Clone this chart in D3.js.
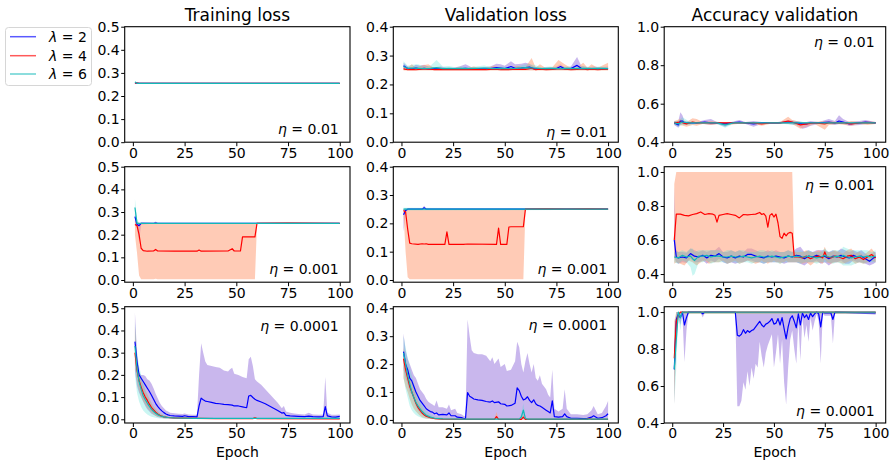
<!DOCTYPE html>
<html>
<head>
<meta charset="utf-8">
<script src="https://cdn.jsdelivr.net/npm/d3@7"></script>
<style>
body { margin: 0; background: #fff; }
text { font-family: "DejaVu Sans", sans-serif; }
</style>
</head>
<body>
<div id="chart"></div>
<script>
// Labels and ticks
const titles = ["Training loss", "Validation loss", "Accuracy validation"];
const lambdas = ["2", "4", "6"];
const etas = ["0.01", "0.001", "0.0001"];
const epochTicks = [0, 25, 50, 75, 100];
const trainTicks = [0, 0.1, 0.2, 0.3, 0.4, 0.5];
const valTicks = [0, 0.1, 0.2, 0.3, 0.4];
const accTicks = [0.4, 0.6, 0.8, 1.0];

// Series rows: [epoch, mean, low, high]
// eta = 0.01
const train_001_l2 = [[1,0.257,0.255,0.259],[3,0.255,0.254,0.256],[50,0.255,0.254,0.256],[100,0.255,0.254,0.256]];
const train_001_l4 = [[1,0.257,0.255,0.259],[3,0.255,0.254,0.256],[50,0.255,0.254,0.256],[100,0.255,0.254,0.256]];
const train_001_l6 = [[1,0.261,0.258,0.265],[2,0.255,0.254,0.257],[50,0.255,0.254,0.256],[100,0.255,0.254,0.256]];

const val_001_l2 = [[1,0.265,0.255,0.275],[3,0.255,0.25,0.262],[5,0.254,0.25,0.26],[7,0.257,0.25,0.268],[9,0.254,0.25,0.265],[11,0.256,0.25,0.268],[13,0.254,0.25,0.262],[16,0.255,0.25,0.26],[19,0.254,0.25,0.262],[22,0.254,0.25,0.258],[25,0.253,0.25,0.258],[28,0.254,0.25,0.262],[31,0.256,0.25,0.27],[34,0.254,0.25,0.26],[37,0.254,0.25,0.258],[40,0.254,0.25,0.26],[43,0.255,0.25,0.262],[46,0.258,0.25,0.272],[48,0.257,0.25,0.27],[50,0.255,0.25,0.265],[53,0.262,0.25,0.28],[55,0.256,0.25,0.27],[58,0.257,0.25,0.272],[60,0.258,0.25,0.275],[62,0.26,0.25,0.272],[64,0.255,0.25,0.262],[67,0.253,0.25,0.258],[70,0.254,0.25,0.26],[73,0.254,0.25,0.26],[75,0.255,0.25,0.262],[77,0.262,0.25,0.27],[79,0.254,0.25,0.26],[82,0.255,0.25,0.262],[85,0.266,0.252,0.295],[87,0.256,0.25,0.265],[90,0.254,0.25,0.26],[93,0.255,0.25,0.262],[96,0.254,0.25,0.26],[100,0.255,0.25,0.262]];
const val_001_l4 = [[1,0.254,0.248,0.262],[3,0.251,0.248,0.258],[5,0.252,0.248,0.27],[7,0.251,0.248,0.258],[10,0.253,0.248,0.266],[13,0.254,0.248,0.27],[16,0.251,0.248,0.256],[19,0.252,0.248,0.258],[22,0.251,0.248,0.256],[25,0.251,0.248,0.256],[28,0.252,0.248,0.26],[31,0.251,0.248,0.256],[35,0.252,0.248,0.262],[38,0.251,0.248,0.256],[41,0.251,0.248,0.257],[45,0.253,0.248,0.265],[48,0.251,0.248,0.257],[51,0.251,0.248,0.256],[56,0.253,0.248,0.265],[60,0.252,0.248,0.26],[63,0.256,0.248,0.292],[65,0.251,0.248,0.258],[67,0.253,0.248,0.27],[70,0.251,0.248,0.256],[73,0.252,0.248,0.26],[76,0.255,0.248,0.285],[79,0.253,0.248,0.27],[82,0.251,0.248,0.257],[85,0.252,0.248,0.26],[88,0.254,0.248,0.275],[90,0.251,0.248,0.258],[92,0.253,0.248,0.27],[95,0.251,0.248,0.257],[97,0.252,0.248,0.265],[100,0.253,0.248,0.275]];
const val_001_l6 = [[1,0.262,0.25,0.28],[3,0.256,0.25,0.265],[5,0.257,0.25,0.268],[8,0.256,0.25,0.27],[11,0.255,0.25,0.262],[14,0.256,0.25,0.265],[17,0.258,0.25,0.285],[20,0.255,0.25,0.262],[23,0.256,0.25,0.264],[26,0.255,0.25,0.26],[29,0.256,0.25,0.262],[32,0.255,0.25,0.26],[36,0.256,0.25,0.262],[40,0.257,0.25,0.266],[44,0.255,0.25,0.26],[48,0.256,0.25,0.262],[52,0.255,0.25,0.26],[56,0.256,0.25,0.263],[60,0.258,0.25,0.27],[64,0.257,0.25,0.268],[68,0.255,0.25,0.26],[72,0.256,0.25,0.262],[76,0.255,0.25,0.26],[80,0.256,0.25,0.262],[84,0.255,0.25,0.26],[88,0.256,0.25,0.263],[92,0.255,0.25,0.26],[96,0.256,0.25,0.262],[100,0.255,0.25,0.26]];

const acc_001_l2 = [[1,0.5,0.49,0.51],[3,0.49,0.475,0.51],[4,0.51,0.49,0.555],[5,0.51,0.495,0.54],[6,0.5,0.49,0.51],[9,0.5,0.495,0.505],[12,0.5,0.495,0.505],[16,0.505,0.495,0.515],[19,0.5,0.49,0.52],[22,0.5,0.495,0.505],[26,0.495,0.48,0.505],[29,0.5,0.495,0.505],[33,0.505,0.495,0.515],[36,0.5,0.495,0.505],[40,0.495,0.48,0.51],[44,0.5,0.495,0.505],[48,0.5,0.495,0.505],[52,0.5,0.495,0.505],[57,0.505,0.495,0.515],[61,0.5,0.49,0.51],[64,0.495,0.47,0.505],[66,0.495,0.475,0.505],[68,0.5,0.485,0.51],[72,0.5,0.495,0.505],[77,0.505,0.495,0.52],[80,0.5,0.49,0.51],[82,0.51,0.495,0.54],[84,0.505,0.495,0.52],[87,0.495,0.485,0.505],[92,0.5,0.49,0.51],[95,0.505,0.495,0.515],[100,0.5,0.495,0.505]];
const acc_001_l4 = [[1,0.5,0.49,0.51],[4,0.505,0.49,0.52],[7,0.495,0.48,0.505],[10,0.505,0.49,0.525],[12,0.5,0.485,0.52],[15,0.5,0.495,0.505],[19,0.5,0.49,0.51],[23,0.5,0.495,0.505],[28,0.5,0.49,0.505],[32,0.5,0.495,0.505],[36,0.5,0.495,0.505],[40,0.5,0.495,0.505],[44,0.495,0.485,0.505],[48,0.5,0.495,0.505],[53,0.5,0.495,0.505],[57,0.51,0.495,0.532],[59,0.505,0.495,0.515],[63,0.49,0.47,0.505],[66,0.495,0.48,0.505],[70,0.5,0.495,0.505],[75,0.495,0.465,0.51],[77,0.5,0.49,0.51],[81,0.5,0.495,0.505],[85,0.5,0.49,0.505],[88,0.495,0.485,0.51],[92,0.5,0.495,0.505],[96,0.5,0.49,0.51],[100,0.5,0.495,0.505]];
const acc_001_l6 = [[1,0.5,0.49,0.51],[3,0.495,0.48,0.51],[5,0.505,0.49,0.53],[8,0.5,0.49,0.51],[12,0.5,0.495,0.505],[17,0.5,0.495,0.505],[22,0.5,0.495,0.505],[26,0.49,0.475,0.5],[30,0.5,0.495,0.505],[35,0.5,0.495,0.505],[40,0.5,0.495,0.505],[45,0.5,0.495,0.505],[50,0.5,0.495,0.505],[55,0.5,0.495,0.505],[60,0.5,0.49,0.51],[65,0.5,0.495,0.505],[70,0.5,0.495,0.505],[75,0.5,0.495,0.505],[80,0.5,0.495,0.505],[85,0.5,0.495,0.505],[90,0.5,0.495,0.505],[95,0.5,0.495,0.505],[100,0.5,0.495,0.505]];

// eta = 0.001
const train_0001_l2 = [[1,0.28,0.25,0.3],[2,0.245,0.23,0.255],[3,0.24,0.17,0.25],[4,0.25,0.245,0.255],[10,0.25,0.248,0.252],[11,0.251,0.248,0.258],[12,0.25,0.248,0.252],[100,0.25,0.248,0.252]];
const train_0001_l4 = [[1,0.245,0.2,0.26],[2,0.24,0.12,0.255],[3,0.2,0.02,0.25],[4,0.14,0.003,0.25],[5,0.13,0.003,0.25],[7,0.127,0.003,0.25],[10,0.128,0.003,0.25],[11,0.135,0.005,0.255],[12,0.128,0.003,0.25],[20,0.127,0.003,0.25],[22,0.128,0.003,0.25],[31,0.127,0.003,0.25],[32,0.132,0.003,0.25],[33,0.127,0.003,0.25],[46,0.128,0.003,0.25],[48,0.138,0.003,0.25],[49,0.128,0.003,0.25],[52,0.128,0.003,0.25],[53,0.19,0.003,0.25],[54,0.19,0.003,0.25],[59,0.19,0.003,0.25],[60,0.25,0.248,0.254],[75,0.251,0.248,0.255],[100,0.25,0.248,0.252]];
const train_0001_l6 = [[1,0.32,0.28,0.36],[2,0.25,0.24,0.27],[3,0.25,0.248,0.252],[100,0.25,0.248,0.252]];

const val_0001_l2 = [[1,0.23,0.17,0.25],[2,0.245,0.235,0.252],[3,0.25,0.248,0.252],[10,0.25,0.248,0.253],[11,0.255,0.248,0.262],[12,0.25,0.248,0.252],[100,0.25,0.248,0.252]];
const val_0001_l4 = [[1,0.245,0.23,0.25],[2,0.24,0.1,0.25],[3,0.18,0.01,0.25],[4,0.13,0.003,0.25],[5,0.128,0.003,0.25],[8,0.126,0.003,0.25],[10,0.128,0.003,0.25],[11,0.127,0.003,0.25],[12,0.128,0.003,0.25],[13,0.126,0.003,0.25],[21,0.126,0.003,0.25],[22,0.17,0.003,0.25],[23,0.126,0.003,0.25],[30,0.126,0.003,0.25],[32,0.127,0.003,0.25],[46,0.126,0.003,0.25],[47,0.183,0.003,0.25],[48,0.126,0.003,0.25],[51,0.126,0.003,0.25],[52,0.187,0.003,0.25],[53,0.188,0.003,0.25],[59,0.188,0.003,0.25],[60,0.25,0.248,0.253],[70,0.251,0.248,0.254],[80,0.25,0.248,0.253],[90,0.251,0.248,0.253],[100,0.25,0.248,0.253]];
const val_0001_l6 = [[1,0.25,0.245,0.255],[100,0.25,0.248,0.252]];

const acc_0001_l2 = [[1,0.6,0.5,0.91],[2,0.5,0.47,0.54],[3,0.495,0.46,0.53],[5,0.5,0.47,0.53],[7,0.495,0.465,0.525],[9,0.52,0.49,0.55],[11,0.505,0.47,0.54],[13,0.5,0.47,0.53],[15,0.51,0.48,0.54],[17,0.495,0.46,0.53],[19,0.51,0.48,0.54],[21,0.505,0.47,0.54],[23,0.52,0.49,0.56],[25,0.5,0.47,0.53],[27,0.495,0.46,0.53],[29,0.505,0.47,0.54],[31,0.495,0.46,0.53],[33,0.505,0.47,0.54],[35,0.5,0.47,0.53],[37,0.515,0.48,0.55],[39,0.515,0.48,0.55],[41,0.505,0.47,0.54],[43,0.5,0.47,0.53],[45,0.495,0.46,0.53],[47,0.505,0.47,0.54],[49,0.5,0.47,0.53],[51,0.505,0.47,0.54],[53,0.5,0.47,0.53],[55,0.495,0.46,0.53],[57,0.505,0.47,0.54],[59,0.5,0.47,0.53],[61,0.51,0.47,0.55],[63,0.505,0.46,0.56],[65,0.49,0.45,0.53],[67,0.505,0.47,0.54],[69,0.5,0.47,0.53],[71,0.51,0.48,0.54],[73,0.5,0.46,0.54],[75,0.505,0.47,0.54],[77,0.49,0.45,0.53],[79,0.505,0.47,0.54],[81,0.5,0.47,0.53],[83,0.51,0.48,0.55],[85,0.5,0.46,0.54],[87,0.495,0.46,0.53],[89,0.51,0.48,0.54],[91,0.5,0.47,0.53],[93,0.505,0.47,0.54],[95,0.49,0.46,0.52],[97,0.475,0.45,0.5],[99,0.495,0.46,0.53],[100,0.5,0.47,0.53]];
const acc_0001_l4 = [[1,0.6,0.46,0.93],[2,0.752,0.47,1.0],[4,0.752,0.46,1.0],[6,0.745,0.45,1.0],[8,0.742,0.48,1.0],[10,0.75,0.47,1.0],[12,0.755,0.45,1.0],[14,0.765,0.47,1.0],[16,0.75,0.48,1.0],[18,0.755,0.46,1.0],[20,0.752,0.47,1.0],[21,0.745,0.47,1.0],[22,0.705,0.47,1.0],[23,0.745,0.47,1.0],[25,0.75,0.48,1.0],[27,0.755,0.46,1.0],[29,0.75,0.47,1.0],[31,0.745,0.48,1.0],[33,0.73,0.46,1.0],[35,0.75,0.47,1.0],[37,0.748,0.48,1.0],[39,0.75,0.47,1.0],[41,0.752,0.46,1.0],[43,0.762,0.47,1.0],[44,0.75,0.48,1.0],[45,0.755,0.47,1.0],[46,0.74,0.47,1.0],[47,0.675,0.46,1.0],[48,0.745,0.47,1.0],[49,0.755,0.47,1.0],[50,0.735,0.48,1.0],[51,0.752,0.47,1.0],[52,0.7,0.47,1.0],[53,0.62,0.46,1.0],[54,0.61,0.47,1.0],[55,0.64,0.47,1.0],[56,0.625,0.48,1.0],[57,0.64,0.47,1.0],[58,0.645,0.47,1.0],[59,0.64,0.47,1.0],[60,0.5,0.47,0.53],[62,0.5,0.47,0.53],[64,0.495,0.46,0.53],[66,0.505,0.47,0.54],[68,0.49,0.45,0.53],[70,0.5,0.47,0.53],[72,0.505,0.47,0.54],[74,0.495,0.46,0.53],[75,0.53,0.49,0.56],[76,0.5,0.47,0.53],[78,0.495,0.46,0.53],[80,0.505,0.47,0.54],[82,0.5,0.47,0.53],[84,0.49,0.46,0.52],[86,0.505,0.47,0.54],[88,0.51,0.48,0.55],[90,0.49,0.46,0.52],[92,0.5,0.47,0.53],[94,0.485,0.46,0.51],[96,0.5,0.47,0.53],[98,0.515,0.48,0.55],[100,0.495,0.47,0.52]];
const acc_0001_l6 = [[1,0.5,0.47,0.53],[3,0.495,0.46,0.53],[5,0.51,0.48,0.54],[7,0.5,0.47,0.53],[9,0.505,0.44,0.55],[10,0.49,0.39,0.55],[11,0.48,0.4,0.53],[13,0.505,0.47,0.54],[15,0.505,0.47,0.54],[17,0.51,0.48,0.54],[19,0.5,0.46,0.54],[21,0.505,0.47,0.54],[23,0.505,0.47,0.54],[25,0.5,0.47,0.53],[27,0.5,0.46,0.54],[29,0.505,0.47,0.54],[31,0.5,0.47,0.53],[33,0.5,0.46,0.54],[35,0.505,0.47,0.54],[37,0.5,0.47,0.53],[39,0.495,0.46,0.53],[41,0.5,0.47,0.53],[43,0.505,0.47,0.54],[45,0.5,0.46,0.54],[47,0.5,0.47,0.53],[49,0.505,0.47,0.54],[51,0.5,0.47,0.53],[53,0.495,0.46,0.53],[55,0.5,0.47,0.53],[57,0.505,0.47,0.54],[59,0.5,0.47,0.53],[61,0.505,0.47,0.54],[63,0.5,0.46,0.54],[65,0.5,0.47,0.53],[67,0.505,0.47,0.54],[69,0.5,0.47,0.53],[71,0.495,0.46,0.53],[73,0.5,0.47,0.53],[75,0.51,0.47,0.55],[77,0.5,0.47,0.53],[79,0.5,0.46,0.54],[81,0.505,0.47,0.54],[83,0.5,0.46,0.54],[84,0.51,0.45,0.56],[86,0.5,0.45,0.55],[88,0.495,0.45,0.54],[90,0.5,0.46,0.54],[92,0.505,0.47,0.54],[94,0.5,0.46,0.54],[96,0.505,0.47,0.54],[98,0.5,0.47,0.53],[100,0.505,0.47,0.54]];

// eta = 0.0001
const train_00001_l2 = [[1,0.35,0.22,0.48],[2,0.26,0.15,0.3],[3,0.2,0.12,0.21],[4,0.185,0.1,0.2],[5,0.17,0.08,0.2],[6,0.155,0.06,0.195],[7,0.14,0.045,0.18],[8,0.125,0.035,0.175],[9,0.108,0.025,0.16],[10,0.09,0.02,0.14],[11,0.072,0.015,0.115],[12,0.058,0.01,0.095],[13,0.047,0.008,0.075],[14,0.038,0.006,0.06],[15,0.03,0.005,0.05],[16,0.024,0.004,0.04],[17,0.02,0.004,0.035],[18,0.017,0.003,0.03],[20,0.015,0.003,0.027],[22,0.014,0.003,0.025],[24,0.013,0.003,0.024],[25,0.016,0.003,0.026],[27,0.012,0.003,0.022],[29,0.012,0.003,0.02],[31,0.011,0.003,0.02],[32,0.06,0.002,0.2],[33,0.095,0.002,0.342],[34,0.088,0.002,0.3],[35,0.082,0.002,0.26],[36,0.08,0.002,0.245],[38,0.076,0.002,0.24],[40,0.072,0.002,0.235],[42,0.07,0.002,0.232],[44,0.067,0.002,0.22],[46,0.066,0.002,0.215],[47,0.065,0.002,0.225],[48,0.064,0.002,0.232],[49,0.06,0.002,0.205],[51,0.06,0.002,0.2],[53,0.056,0.002,0.19],[55,0.052,0.002,0.185],[56,0.105,0.002,0.27],[57,0.108,0.002,0.282],[58,0.098,0.002,0.24],[59,0.09,0.002,0.18],[60,0.085,0.002,0.17],[62,0.078,0.002,0.155],[64,0.07,0.002,0.135],[66,0.06,0.002,0.115],[68,0.05,0.002,0.095],[70,0.04,0.002,0.075],[72,0.028,0.002,0.05],[73,0.03,0.002,0.06],[74,0.018,0.002,0.035],[76,0.015,0.002,0.03],[78,0.014,0.002,0.026],[80,0.013,0.002,0.024],[83,0.012,0.002,0.022],[85,0.014,0.002,0.03],[87,0.012,0.002,0.022],[90,0.011,0.002,0.02],[92,0.012,0.002,0.022],[93,0.057,0.002,0.19],[94,0.015,0.002,0.03],[96,0.011,0.002,0.02],[98,0.01,0.002,0.02],[100,0.013,0.002,0.022]];
const train_00001_l4 = [[1,0.3,0.25,0.42],[2,0.22,0.17,0.27],[3,0.175,0.13,0.21],[4,0.145,0.1,0.18],[5,0.12,0.08,0.155],[6,0.1,0.065,0.13],[7,0.085,0.05,0.115],[8,0.068,0.04,0.095],[9,0.053,0.03,0.075],[10,0.042,0.022,0.058],[11,0.032,0.016,0.047],[12,0.024,0.012,0.036],[13,0.018,0.009,0.027],[14,0.014,0.007,0.021],[15,0.011,0.005,0.017],[17,0.008,0.004,0.012],[20,0.006,0.003,0.009],[25,0.005,0.002,0.008],[30,0.004,0.002,0.008],[40,0.003,0.001,0.005],[58,0.003,0.001,0.006],[59,0.007,0.001,0.012],[60,0.003,0.001,0.005],[100,0.002,0.001,0.004]];
const train_00001_l6 = [[1,0.33,0.2,0.44],[2,0.23,0.12,0.3],[3,0.17,0.08,0.24],[4,0.135,0.055,0.2],[5,0.105,0.04,0.165],[6,0.088,0.03,0.135],[7,0.072,0.022,0.11],[8,0.058,0.016,0.09],[9,0.045,0.012,0.072],[10,0.035,0.009,0.058],[11,0.027,0.007,0.046],[12,0.021,0.005,0.036],[13,0.016,0.004,0.028],[15,0.011,0.003,0.019],[17,0.008,0.002,0.013],[20,0.006,0.002,0.01],[25,0.005,0.002,0.008],[30,0.004,0.001,0.007],[40,0.004,0.001,0.006],[60,0.004,0.001,0.006],[100,0.004,0.001,0.006]];

const val_00001_l2 = [[1,0.245,0.18,0.31],[2,0.2,0.15,0.25],[3,0.18,0.13,0.22],[4,0.15,0.1,0.2],[5,0.14,0.09,0.18],[6,0.12,0.07,0.16],[7,0.1,0.05,0.15],[8,0.085,0.035,0.13],[9,0.07,0.025,0.11],[10,0.06,0.02,0.1],[11,0.05,0.015,0.09],[12,0.04,0.01,0.075],[13,0.035,0.008,0.065],[14,0.03,0.006,0.06],[15,0.028,0.005,0.055],[16,0.022,0.004,0.05],[17,0.025,0.004,0.07],[18,0.018,0.003,0.045],[20,0.02,0.003,0.045],[22,0.018,0.003,0.04],[23,0.025,0.003,0.055],[24,0.015,0.003,0.035],[26,0.015,0.003,0.04],[27,0.01,0.002,0.025],[29,0.008,0.002,0.02],[30,0.006,0.002,0.015],[31,0.005,0.002,0.012],[32,0.098,0.002,0.36],[33,0.085,0.002,0.3],[34,0.08,0.002,0.25],[35,0.075,0.002,0.24],[37,0.072,0.002,0.235],[39,0.07,0.002,0.235],[41,0.066,0.002,0.23],[43,0.064,0.002,0.21],[44,0.068,0.002,0.225],[45,0.062,0.002,0.2],[47,0.065,0.002,0.22],[48,0.058,0.002,0.19],[50,0.056,0.002,0.2],[51,0.05,0.002,0.175],[53,0.052,0.002,0.18],[55,0.06,0.002,0.21],[56,0.115,0.002,0.28],[57,0.105,0.002,0.26],[58,0.085,0.002,0.2],[59,0.072,0.002,0.17],[60,0.075,0.002,0.21],[61,0.083,0.002,0.24],[62,0.07,0.002,0.2],[63,0.062,0.002,0.17],[64,0.072,0.002,0.2],[65,0.058,0.002,0.15],[66,0.052,0.002,0.14],[67,0.05,0.002,0.16],[68,0.045,0.002,0.13],[70,0.035,0.002,0.11],[71,0.03,0.002,0.09],[72,0.025,0.002,0.08],[73,0.068,0.002,0.18],[74,0.012,0.002,0.04],[76,0.01,0.002,0.03],[78,0.012,0.002,0.04],[79,0.022,0.002,0.11],[80,0.012,0.002,0.04],[82,0.006,0.002,0.02],[85,0.006,0.002,0.02],[88,0.005,0.002,0.018],[90,0.006,0.002,0.02],[92,0.01,0.002,0.035],[93,0.015,0.002,0.05],[95,0.006,0.002,0.02],[97,0.008,0.002,0.025],[99,0.015,0.002,0.05],[100,0.022,0.002,0.068]];
const val_00001_l4 = [[1,0.22,0.15,0.26],[2,0.18,0.12,0.22],[3,0.15,0.1,0.19],[4,0.12,0.075,0.16],[5,0.1,0.055,0.14],[6,0.08,0.04,0.115],[7,0.06,0.03,0.09],[8,0.045,0.022,0.07],[9,0.034,0.015,0.055],[10,0.025,0.01,0.042],[11,0.018,0.007,0.03],[12,0.013,0.005,0.022],[14,0.008,0.003,0.014],[16,0.005,0.002,0.009],[20,0.003,0.001,0.006],[30,0.002,0.001,0.005],[45,0.002,0.001,0.005],[46,0.012,0.001,0.028],[47,0.002,0.001,0.005],[58,0.002,0.001,0.005],[59,0.01,0.001,0.02],[60,0.002,0.001,0.005],[90,0.002,0.001,0.005],[91,0.005,0.001,0.01],[92,0.002,0.001,0.005],[100,0.002,0.001,0.005]];
const val_00001_l6 = [[1,0.24,0.15,0.3],[2,0.2,0.11,0.26],[3,0.16,0.08,0.22],[4,0.13,0.05,0.19],[5,0.1,0.035,0.16],[6,0.08,0.025,0.13],[7,0.063,0.018,0.105],[8,0.05,0.013,0.085],[9,0.04,0.01,0.068],[10,0.03,0.007,0.055],[11,0.023,0.005,0.042],[12,0.017,0.004,0.032],[14,0.01,0.003,0.02],[16,0.006,0.002,0.012],[20,0.004,0.001,0.008],[30,0.003,0.001,0.006],[57,0.003,0.001,0.006],[58,0.01,0.001,0.02],[59,0.035,0.002,0.06],[60,0.005,0.001,0.01],[61,0.003,0.001,0.006],[100,0.003,0.001,0.006]];

const acc_00001_l2 = [[1,0.69,0.5,0.88],[2,0.96,0.9,1.0],[3,0.99,0.97,1.0],[4,0.97,0.93,1.0],[5,1.0,0.99,1.0],[6,0.93,0.73,1.0],[7,0.97,0.9,1.0],[8,1.0,0.995,1.0],[14,1.0,0.995,1.0],[15,0.99,0.97,1.0],[16,1.0,0.995,1.0],[31,1.0,0.995,1.0],[32,0.875,0.49,1.0],[33,0.87,0.49,1.0],[34,0.88,0.52,1.0],[35,0.905,0.62,1.0],[36,0.885,0.58,1.0],[37,0.9,0.68,1.0],[38,0.89,0.6,1.0],[39,0.9,0.7,1.0],[40,0.905,0.64,1.0],[41,0.92,0.72,1.0],[42,0.935,0.7,1.0],[43,0.95,0.84,1.0],[44,0.93,0.76,1.0],[45,0.92,0.7,1.0],[46,0.935,0.78,1.0],[47,0.94,0.82,1.0],[48,0.95,0.85,1.0],[49,0.965,0.88,1.0],[50,0.935,0.7,1.0],[51,0.94,0.78,1.0],[52,0.965,0.88,1.0],[53,0.93,0.72,1.0],[54,0.97,0.85,1.0],[55,0.91,0.62,1.0],[56,0.855,0.5,1.0],[57,0.92,0.7,1.0],[58,0.965,0.85,1.0],[59,0.98,0.9,1.0],[60,0.95,0.8,1.0],[61,0.915,0.72,1.0],[62,0.99,0.95,1.0],[63,0.93,0.74,1.0],[64,0.995,0.97,1.0],[65,0.97,0.86,1.0],[66,0.985,0.93,1.0],[67,0.96,0.84,1.0],[68,0.995,0.97,1.0],[69,0.975,0.9,1.0],[70,0.99,0.95,1.0],[71,1.0,0.99,1.0],[72,0.99,0.95,1.0],[73,0.92,0.72,1.0],[74,1.0,0.99,1.0],[75,0.995,0.98,1.0],[78,0.995,0.98,1.0],[79,0.96,0.83,1.0],[80,1.0,0.99,1.0],[85,0.998,0.99,1.0],[90,0.997,0.99,1.0],[95,0.996,0.99,1.0],[100,0.995,0.985,1.0]];
const acc_00001_l4 = [[1,0.75,0.5,0.95],[2,0.95,0.85,1.0],[3,0.98,0.95,1.0],[4,1.0,0.99,1.0],[100,1.0,0.99,1.0]];
const acc_00001_l6 = [[1,0.69,0.5,0.9],[2,0.85,0.7,1.0],[3,1.0,0.98,1.0],[4,0.97,0.9,1.0],[5,1.0,0.99,1.0],[100,1.0,0.99,1.0]];

// grid[row][col] -> series for lambda 2, 4, 6
const grid = [
    [[train_001_l2, train_001_l4, train_001_l6], [val_001_l2, val_001_l4, val_001_l6], [acc_001_l2, acc_001_l4, acc_001_l6]],
    [[train_0001_l2, train_0001_l4, train_0001_l6], [val_0001_l2, val_0001_l4, val_0001_l6], [acc_0001_l2, acc_0001_l4, acc_0001_l6]],
    [[train_00001_l2, train_00001_l4, train_00001_l6], [val_00001_l2, val_00001_l4, val_00001_l6], [acc_00001_l2, acc_00001_l4, acc_00001_l6]]
];
const yTicksByCol = [trainTicks, valTicks, accTicks];

/* Layout */
let width = 894, height = 462;
let colLeft = [124.7, 393.3, 664.2];
let colWidth = [225.3, 225, 221.5];
let rowTop = [26.7, 166.7, 306.7];
let rowHeight = [115.5, 115.5, 116.3];
let yLimits = [
    [[0, 0.5], [0, 0.4], [0.4, 1.0]],
    [[-0.0097, 0.5], [-0.0078, 0.4], [0.352, 1.031]],
    [[-0.0167, 0.507], [-0.011, 0.4057], [0.4, 1.029]]
];
// eta label vertical position (fraction of axes height from top)
let etaPos = [[0.89, 0.913, 0.133], [0.889, 0.885, 0.16], [0.167, 0.156, 0.895]];

let lineColors = ["#0000ff", "#ff0000", "#12b8b8"];
let bandColors = ["#9370db", "#ffa07a", "#40e0d0"];
let bandOpacity = [0.5, 0.55, 0.28];

let svg = d3.select("#chart")
    .append("svg")
    .attr("width", width)
    .attr("height", height)
    .style("background", "#fff");

grid.forEach((rowSeries, r) => {
    rowSeries.forEach((series, c) => {
        let w = colWidth[c], h = rowHeight[r];
        let g = svg.append("g")
            .attr("transform", `translate(${colLeft[c]}, ${rowTop[r]})`);

        let xScale = d3.scaleLinear().domain([-3.95, 104.95]).range([0, w]);
        let yScale = d3.scaleLinear().domain(yLimits[r][c]).range([h, 0]);

        let clipId = `clip-${r}-${c}`;
        g.append("defs").append("clipPath")
            .attr("id", clipId)
            .append("rect")
            .attr("width", w)
            .attr("height", h);

        let main = g.append("g").attr("clip-path", `url(#${clipId})`);

        let area = d3.area()
            .x(d => xScale(d[0]))
            .y0(d => yScale(d[2]))
            .y1(d => yScale(d[3]));
        let line = d3.line()
            .x(d => xScale(d[0]))
            .y(d => yScale(d[1]));

        series.forEach((s, i) => {
            main.append("path")
                .datum(s)
                .attr("d", area)
                .attr("fill", bandColors[i])
                .attr("fill-opacity", bandOpacity[i])
                .attr("stroke", "none");
        });
        series.forEach((s, i) => {
            main.append("path")
                .datum(s)
                .attr("d", line)
                .attr("fill", "none")
                .attr("stroke", lineColors[i])
                .attr("stroke-width", 1.2)
                .attr("stroke-linejoin", "round");
        });

        /* Axes */
        let xAxis = d3.axisBottom(xScale)
            .tickValues(epochTicks)
            .tickSize(4)
            .tickPadding(1.5)
            .tickSizeOuter(0);
        let yAxis = d3.axisLeft(yScale)
            .tickValues(yTicksByCol[c])
            .tickFormat(d3.format(".1f"))
            .tickSize(3.5)
            .tickPadding(1.5)
            .tickSizeOuter(0);

        let gx = g.append("g")
            .attr("transform", `translate(0, ${h})`)
            .call(xAxis);
        let gy = g.append("g").call(yAxis);
        [gx, gy].forEach(a => {
            a.select(".domain").remove();
            a.selectAll("line").attr("stroke", "#000").attr("stroke-width", 1);
            a.selectAll("text")
                .attr("fill", "#000")
                .style("font-size", "14px")
                .style("font-family", "'DejaVu Sans', sans-serif");
        });

        g.append("rect")
            .attr("width", w)
            .attr("height", h)
            .attr("fill", "none")
            .attr("stroke", "#000")
            .attr("stroke-width", 1.1);

        /* eta annotation */
        let eta = g.append("text")
            .attr("x", w * 0.95)
            .attr("y", h * etaPos[r][c])
            .attr("text-anchor", "end")
            .attr("dominant-baseline", "central")
            .style("font-size", "14px");
        eta.append("tspan").attr("font-style", "italic").text("η");
        eta.append("tspan").text(` = ${etas[r]}`);

        if (r === 0) {
            g.append("text")
                .attr("x", w / 2)
                .attr("y", -5.5)
                .attr("text-anchor", "middle")
                .style("font-size", "17px")
                .text(titles[c]);
        }
        if (r === 2) {
            g.append("text")
                .attr("x", w / 2)
                .attr("y", h + 34)
                .attr("text-anchor", "middle")
                .style("font-size", "14px")
                .text("Epoch");
        }
    });
});

/* Legend */
let legend = svg.append("g");
legend.append("rect")
    .attr("x", 5.5)
    .attr("y", 27.5)
    .attr("width", 86)
    .attr("height", 58)
    .attr("rx", 3)
    .attr("fill", "#fff")
    .attr("stroke", "#d6d6d6");
let legendY = [36.7, 55.7, 74];
lambdas.forEach((lam, i) => {
    legend.append("line")
        .attr("x1", 10).attr("x2", 36)
        .attr("y1", legendY[i]).attr("y2", legendY[i])
        .attr("stroke", lineColors[i])
        .attr("stroke-opacity", 0.65)
        .attr("stroke-width", 1.5);
    let t = legend.append("text")
        .attr("x", 49)
        .attr("y", legendY[i])
        .attr("dominant-baseline", "central")
        .style("font-size", "14px");
    t.append("tspan").attr("font-style", "italic").text("λ");
    t.append("tspan").text(` = ${lam}`);
});
</script>
</body>
</html>
